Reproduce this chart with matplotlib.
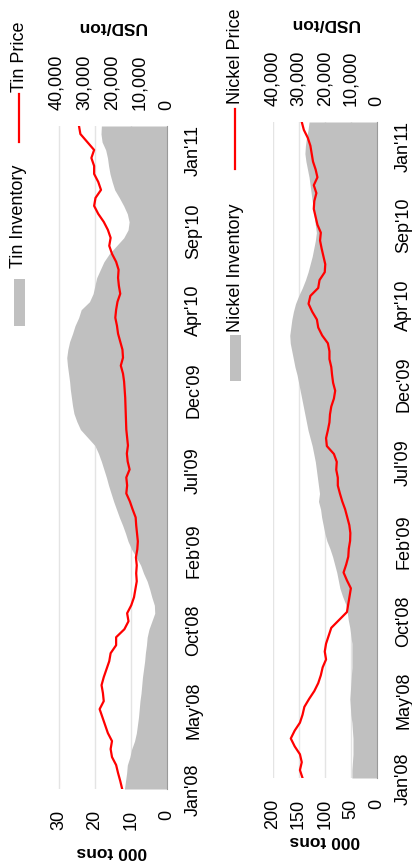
import matplotlib.pyplot as plt
import matplotlib.ticker as mticker
from matplotlib.lines import Line2D
from matplotlib.patches import Rectangle
import pandas as pd

plt.rcParams['font.family'] = ['Liberation Sans', 'DejaVu Sans']

W, H = 412, 862  # output size in pixels

# ---- data (two-week samples, Jan 2008 - Mar 2011) ----
dates = pd.date_range("2008-01-02", periods=84, freq="14D")

tick_dates = pd.to_datetime(["2008-01-02", "2008-05-21", "2008-10-08", "2009-02-25",
                             "2009-07-15", "2009-12-02", "2010-04-21", "2010-09-08",
                             "2011-01-26"])
tick_labels = ["Jan'08", "May'08", "Oct'08", "Feb'09", "Jul'09", "Dec'09",
               "Apr'10", "Sep'10", "Jan'11"]

# tin stocks, '000 tons
tin_inventory = [11.8, 11.5, 11.2, 11.0, 10.3, 9.8, 9.0, 8.5, 8.2, 7.9,
                 7.7, 7.5, 7.2, 7.0, 6.8, 6.5, 6.2, 6.0, 5.7, 5.5,
                 5.0, 4.2, 3.4, 3.5, 4.2, 4.8, 5.5, 6.5, 7.3, 8.5,
                 9.8, 10.8, 11.5, 12.3, 13.2, 14.0, 14.8, 15.5, 16.2, 16.8,
                 17.5, 18.2, 19.0, 20.0, 22.0, 24.0, 25.0, 25.8, 26.2, 26.5,
                 26.8, 27.0, 27.3, 27.6, 27.8, 27.5, 27.0, 26.2, 25.5, 24.5,
                 23.8, 21.5, 20.5, 20.0, 19.5, 18.5, 17.5, 16.0, 14.0, 12.0,
                 10.8, 10.5, 11.0, 12.0, 13.2, 14.5, 15.2, 15.8, 16.2, 16.5,
                 17.0, 18.0, 18.3, 18.2]

# tin price, USD/ton
tin_price = [16300, 17000, 17800, 18500, 20000, 20500, 20000, 21500, 22500, 23500,
             24500, 23000, 23300, 23800, 23000, 22000, 21000, 20500, 18500, 18500,
             15500, 14000, 14500, 13000, 12000, 11500, 11000, 11200, 11000, 11300,
             10800, 10600, 10900, 11200, 11400, 12500, 13500, 14800, 14500, 14800,
             13600, 14300, 14600, 14200, 14500, 14800, 14900, 15000, 15100, 15200,
             15400, 15600, 16000, 16800, 16000, 16200, 17000, 17800, 18200, 18800,
             18500, 18000, 17000, 17500, 17800, 17600, 18500, 20000, 21000, 20500,
             21500, 23000, 25000, 26500, 26000, 24000, 25000, 26500, 26500, 27500,
             26500, 29000, 31500, 32000]

# nickel stocks, '000 tons
nickel_inventory = [48, 48, 47, 46, 46, 46, 47, 48, 50, 51,
                    52, 51, 50, 49, 48, 48, 48, 48, 50, 52,
                    55, 57, 60, 66, 71, 74, 77, 81, 85, 90,
                    96, 100, 103, 106, 108, 112, 110, 112, 114, 116,
                    118, 121, 124, 128, 132, 135, 138, 141, 144, 147,
                    150, 153, 157, 160, 163, 166, 167, 165, 163, 160,
                    156, 150, 143, 137, 132, 128, 124, 121, 118, 116,
                    118, 120, 122, 124, 126, 128, 130, 133, 136, 138,
                    137, 135, 132, 130]

# nickel price, USD/ton
nickel_price = [28500, 29500, 28800, 29500, 31500, 33000, 31500, 29500, 28500, 27800,
                26000, 24000, 22500, 21500, 20800, 19500, 20000, 19500, 18500, 17500,
                14500, 11500, 11000, 10500, 10000, 11500, 12800, 11800, 11000, 10800,
                10300, 10200, 10600, 11400, 12200, 13300, 14200, 15000, 15000, 15600,
                15400, 16500, 19200, 19500, 18800, 18200, 18000, 17500, 16500, 16000,
                16800, 17200, 17500, 18200, 18200, 18800, 21000, 22500, 23000, 24800,
                26200, 25500, 22500, 22000, 20000, 19800, 20500, 21200, 21800, 21500,
                22800, 23500, 24200, 24000, 23200, 24200, 22800, 23500, 24500, 25000,
                25500, 26500, 28000, 28800]


def fig_rect(x0, y0, x1, y1):
    """Pixel box (origin top-left) -> figure fraction rect."""
    return [x0 / W, 1 - y1 / H, (x1 - x0) / W, (y1 - y0) / H]


def px(x, y):
    return x / W, 1 - y / H


def draw_panel(fig, box, inventory, price, inv_max, inv_ticks):
    ax = fig.add_axes(fig_rect(*box))
    ax.fill_betweenx(dates, 0, inventory, color='#c0c0c0', lw=0)
    ax.set_xlim(inv_max, 0)
    ax.set_xticks(inv_ticks)
    ax.grid(axis='x', color='#e4e4e4', lw=1)
    ax.set_axisbelow(True)
    ax.yaxis.tick_right()
    ax.set_yticks(tick_dates, labels=tick_labels, rotation=90, va='center')
    ax.tick_params(axis='both', length=0, labelsize=13)
    ax.tick_params(axis='x', pad=14, labelrotation=90)
    ax.tick_params(axis='y', pad=13)
    for side in ['left', 'top', 'bottom']:
        ax.spines[side].set_visible(False)
    ax.spines['right'].set_color('#9a9a9a')
    ax.set_xlabel('000 tons', rotation=180, fontweight='bold', fontsize=12.5, va='center')

    ax2 = ax.twiny()
    ax2.plot(price, dates, color='#ff0000', lw=1.6)
    ax2.set_xlim(40000, 0)
    ax2.set_xticks(range(0, 40001, 10000))
    ax2.xaxis.set_major_formatter(mticker.StrMethodFormatter('{x:,.0f}'))
    ax2.tick_params(axis='x', length=0, pad=12, labelsize=13, labelrotation=90)
    for side in ax2.spines:
        ax2.spines[side].set_visible(False)
    ax2.set_xlabel('USD/ton', rotation=180, fontweight='bold', fontsize=12.5, va='center')
    ax.set_ylim(dates[0], dates[-1])

    height = box[3] - box[1]
    ax.xaxis.set_label_coords(0.5, -62 / height)
    ax2.xaxis.set_label_coords(0.5, 1 + 100 / height)
    return ax, ax2


def draw_legend(fig, x, patch_span, inv_label, inv_bottom, line_span, price_label, price_bottom):
    x0, y0 = px(x - 5.5, patch_span[1])
    x1, y1 = px(x + 5.5, patch_span[0])
    fig.add_artist(Rectangle((x0, y0), x1 - x0, y1 - y0, transform=fig.transFigure,
                             color='#c0c0c0', lw=0))
    fig.text(*px(x, inv_bottom), inv_label, rotation=90, ha='center', va='bottom', fontsize=13)
    lx, ly0 = px(x, line_span[1])
    _, ly1 = px(x, line_span[0])
    fig.add_artist(Line2D([lx, lx], [ly0, ly1], transform=fig.transFigure,
                          color='#ff0000', lw=1.6))
    fig.text(*px(x, price_bottom), price_label, rotation=90, ha='center', va='bottom', fontsize=13)


fig = plt.figure(figsize=(W / 100, H / 100), dpi=100)

draw_panel(fig, (57, 127, 167, 790), tin_inventory, tin_price, 30.5, [0, 10, 20, 30])
draw_panel(fig, (272.5, 123, 377, 779), nickel_inventory, nickel_price, 200, [0, 50, 100, 150, 200])

draw_legend(fig, 19, (280, 327), 'Tin Inventory', 268, (95, 143), 'Tin Price', 92)
draw_legend(fig, 235, (336, 382), 'Nickel Inventory', 332, (110, 170), 'Nickel Price', 104)

fig.savefig('out.png', dpi=100)
